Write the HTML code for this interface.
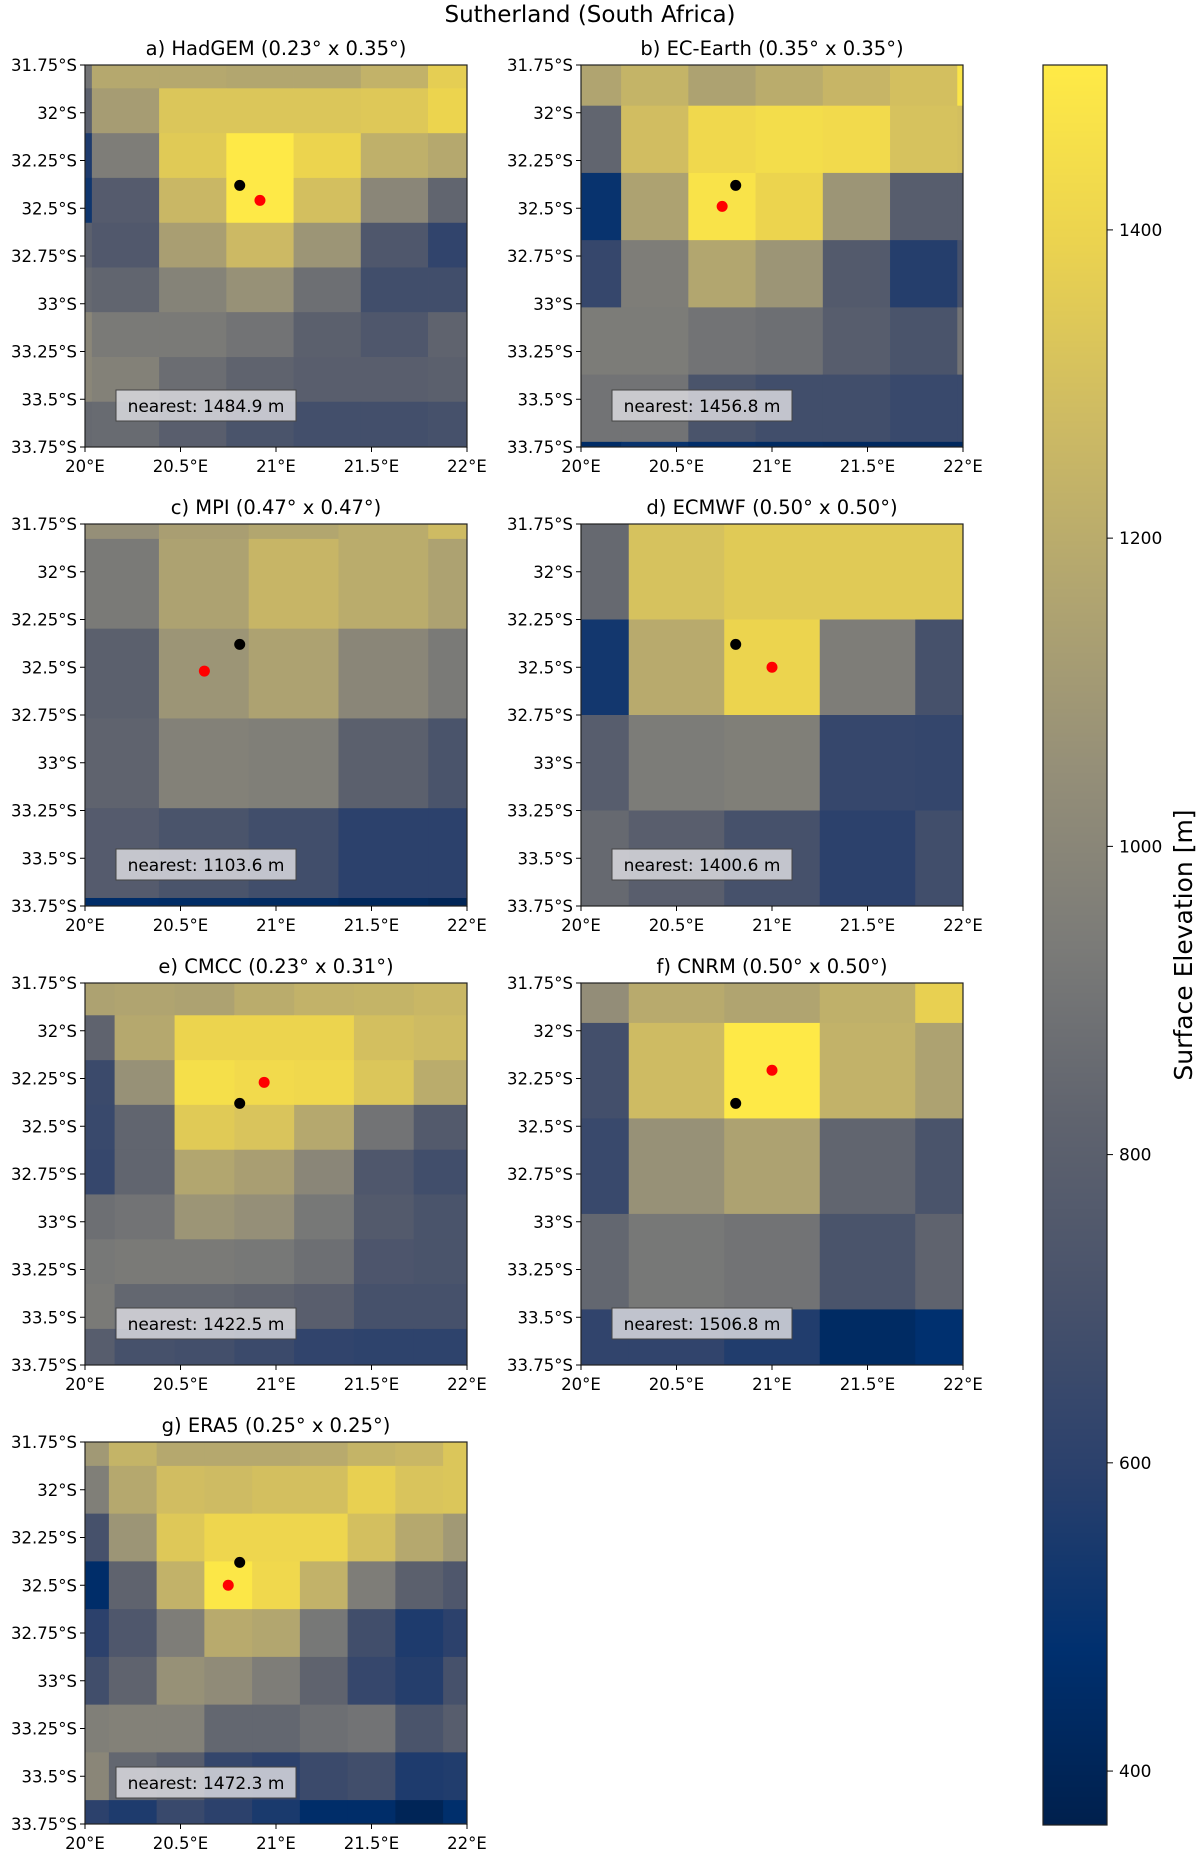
<!DOCTYPE html>
<html><head><meta charset="utf-8"><style>
html,body{margin:0;padding:0;background:#fff;}
svg text{font-family:"DejaVu Sans","Liberation Sans",sans-serif;fill:#000;}
</style></head><body>
<svg id="fig" width="1200" height="1856" viewBox="0 0 1200 1856" xmlns="http://www.w3.org/2000/svg">
<text x="590" y="22" font-size="23" text-anchor="middle">Sutherland (South Africa)</text>
</svg>
<script>
// ---- colour scale ----
const vmin = 365, vmax = 1507;
const cbTicks = [400, 600, 800, 1000, 1200, 1400];
const cmapStops = ["#00204d","#00306f","#2a406c","#48526b","#5f636e","#7b7b78","#958f78","#b1a570","#cebb63","#ebd34f","#ffea46"];

// ---- panel data (lon edges, lat edges, values row by row north->south) ----
const titlesList = ["a) HadGEM (0.23° x 0.35°)","b) EC-Earth (0.35° x 0.35°)","c) MPI (0.47° x 0.47°)","d) ECMWF (0.50° x 0.50°)","e) CMCC (0.23° x 0.31°)","f) CNRM (0.50° x 0.50°)","g) ERA5 (0.25° x 0.25°)"];
const nearestList = ["nearest: 1484.9 m","nearest: 1456.8 m","nearest: 1103.6 m","nearest: 1400.6 m","nearest: 1422.5 m","nearest: 1506.8 m","nearest: 1472.3 m"];
const siteLon = 20.81, siteLat = -32.38;
const redLon = [20.916, 20.739, 20.625, 21.0, 20.938, 21.0, 20.75];
const redLat = [-32.459, -32.49, -32.52, -32.5, -32.27, -32.207, -32.5];

const lonA = [19.684,20.036,20.388,20.740,21.092,21.444,21.796,22.148];
const latA = [-31.638,-31.872,-32.107,-32.341,-32.576,-32.810,-33.044,-33.279,-33.513,-33.748];
const valA = [
[900,1180,1180,1170,1170,1230,1370],
[800,1120,1330,1330,1330,1340,1400],
[560,950,1350,1500,1400,1220,1180],
[520,770,1260,1500,1300,1000,830],
[800,750,1130,1270,1080,740,620],
[850,830,980,1060,880,680,680],
[1000,930,930,900,800,740,820],
[1000,970,870,820,790,790,800],
[850,860,790,720,690,690,700]];

const lonB = [19.858,20.21,20.562,20.914,21.266,21.618,21.97,22.322];
const latB = [-31.611,-31.963,-32.315,-32.667,-33.019,-33.371,-33.723,-34.075];
const valB = [
[1160,1240,1150,1200,1250,1300,1480],
[830,1290,1420,1440,1430,1310,1300],
[500,1150,1470,1400,1080,780,780],
[640,950,1170,1080,760,580,700],
[940,940,900,880,780,720,900],
[900,900,720,680,680,650,650],
[450,500,460,440,430,420,420]];

const lonC = [19.917,20.387,20.857,21.327,21.797,22.267];
const latC = [-31.358,-31.828,-32.298,-32.768,-33.238,-33.708,-34.178];
const valC = [
[1050,1130,1170,1200,1280],
[930,1150,1250,1200,1150],
[800,1080,1150,1000,930],
[820,970,960,800,720],
[770,720,680,600,600],
[460,450,440,420,400]];

const lonD = [19.75,20.25,20.75,21.25,21.75,22.25];
const latD = [-31.75,-32.25,-32.75,-33.25,-33.75];
const valD = [
[850,1310,1350,1350,1350],
[530,1190,1400,950,700],
[780,940,960,640,630],
[850,790,700,600,680]];

const lonE = [19.842,20.155,20.469,20.782,21.095,21.408,21.721,22.034];
const latE = [-31.685,-31.919,-32.154,-32.388,-32.623,-32.857,-33.092,-33.326,-33.561,-33.795];
const valE = [
[1150,1160,1150,1200,1230,1240,1260],
[820,1180,1400,1400,1400,1300,1280],
[660,1060,1450,1430,1420,1330,1200],
[650,830,1350,1320,1180,900,760],
[640,830,1170,1130,1000,740,680],
[880,900,1080,1050,920,760,720],
[920,930,930,920,880,730,720],
[930,840,840,820,790,700,700],
[780,700,690,660,620,610,610]];

const lonF = [19.75,20.25,20.75,21.25,21.75,22.25];
const latF = [-31.459,-31.959,-32.459,-32.959,-33.459,-33.959];
const valF = [
[1040,1190,1160,1220,1380],
[690,1280,1500,1230,1150],
[650,1060,1150,830,720],
[840,920,900,720,820],
[620,620,570,440,480]];

const lonG = [19.875,20.125,20.375,20.625,20.875,21.125,21.375,21.625,21.875,22.125];
const latG = [-31.625,-31.875,-32.125,-32.375,-32.625,-32.875,-33.125,-33.375,-33.625,-33.875];
const valG = [
[1100,1240,1180,1180,1180,1190,1240,1260,1330],
[960,1180,1290,1280,1300,1300,1380,1320,1330],
[700,1080,1340,1410,1410,1410,1300,1180,1100],
[460,820,1230,1490,1420,1230,950,800,740],
[600,740,950,1190,1170,920,680,560,600],
[680,820,1060,1030,950,820,640,580,700],
[960,970,970,840,840,880,900,720,780],
[1000,840,780,630,600,660,680,560,570],
[600,560,650,600,550,460,460,400,470]];

const latTicks = [-31.75,-32,-32.25,-32.5,-32.75,-33,-33.25,-33.5,-33.75];
const latLabels = ["31.75°S","32°S","32.25°S","32.5°S","32.75°S","33°S","33.25°S","33.5°S","33.75°S"];
const lonTicks = [20,20.5,21,21.5,22];
const lonLabels = ["20°E","20.5°E","21°E","21.5°E","22°E"];

const panelData = [[lonA,latA,valA],[lonB,latB,valB],[lonC,latC,valC],[lonD,latD,valD],[lonE,latE,valE],[lonF,latF,valF],[lonG,latG,valG]];
const panelIds = ["hadgem","ec-earth","mpi","ecmwf","cmcc","cnrm","era5"];

// ---- helpers ----
const NS = "http://www.w3.org/2000/svg";
const svg = document.getElementById("fig");
function hex2rgb(h){return [parseInt(h.slice(1,3),16),parseInt(h.slice(3,5),16),parseInt(h.slice(5,7),16)];}
function cmap(v){
  let t=(v-vmin)/(vmax-vmin); t=Math.max(0,Math.min(1,t));
  const n=cmapStops.length-1, f=t*n, i=Math.min(n-1,Math.floor(f)), r=f-i;
  const a=hex2rgb(cmapStops[i]), b=hex2rgb(cmapStops[i+1]);
  return "rgb("+a.map((c,k)=>Math.round(c+(b[k]-c)*r)).join(",")+")";
}
function mk(tag,attrs,parent){const e=document.createElementNS(NS,tag);for(const k in attrs)e.setAttribute(k,attrs[k]);(parent||svg).appendChild(e);return e;}

const PW=382, PH=382;
const colX=[85,581];
const rowY=[65,524,983,1442];
const defs=mk("defs",{});

panelData.forEach((pd,p)=>{
  const [lons,lats,vals]=pd;
  const x0=colX[p%2], y0=rowY[Math.floor(p/2)];
  const sx=lon=>x0+(lon-20)/2*PW;
  const sy=lat=>y0+(-31.75-lat)/2*PH;
  const g=mk("g",{});
  
  
  const cp=mk("clipPath",{id:"clip"+p},defs);
  mk("rect",{x:x0,y:y0,width:PW,height:PH},cp);
  const cells=mk("g",{"clip-path":"url(#clip"+p+")"},g);
  
  
  vals.forEach((row,r)=>row.forEach((v,c)=>{
    const xa=sx(lons[c]), xb=sx(lons[c+1]), ya=sy(lats[r]), yb=sy(lats[r+1]);
    const rc=mk("rect",{x:xa,y:ya,width:xb-xa+0.4,height:yb-ya+0.4,fill:cmap(v)},cells);
    
    
  }));
  const bd=mk("circle",{cx:sx(siteLon),cy:sy(siteLat),r:5.5,fill:"#000"},g);
  
  
  const rd=mk("circle",{cx:sx(redLon[p]),cy:sy(redLat[p]),r:5.5,fill:"#ff0000"},g);
  
  
  const lb=mk("rect",{x:x0+31,y:y0+325,width:180,height:31,fill:"#d9d9de","fill-opacity":"0.85",stroke:"#444","stroke-width":1},g);
  
  
  const lt=mk("text",{x:x0+121,y:y0+347,"font-size":17,"text-anchor":"middle"},g);
  lt.textContent=nearestList[p];
  
  
  mk("rect",{x:x0,y:y0,width:PW,height:PH,fill:"none",stroke:"#222","stroke-width":1.2},g);
  latTicks.forEach((lt2,i)=>{
    const y=sy(lt2);
    mk("line",{x1:x0-5,x2:x0,y1:y,y2:y,stroke:"#000","stroke-width":1},g);
    const t=mk("text",{x:x0-8,y:y+6,"font-size":16.5,"text-anchor":"end"},g);
    t.textContent=latLabels[i];
    
    
  });
  lonTicks.forEach((ln,i)=>{
    const x=sx(ln);
    mk("line",{x1:x,x2:x,y1:y0+PH,y2:y0+PH+5,stroke:"#000","stroke-width":1},g);
    const t=mk("text",{x:x,y:y0+PH+25,"font-size":16.5,"text-anchor":"middle"},g);
    t.textContent=lonLabels[i];
    
    
  });
  const tt=mk("text",{x:x0+PW/2,y:y0-10,"font-size":19.5,"text-anchor":"middle"},g);
  tt.textContent=titlesList[p];
  
  
});

// ---- colorbar ----
const cbX=1043, cbW=64, cbTop=65, cbBot=1825;
const cbG=mk("g",{});


const cy=v=>cbBot-(v-vmin)/(vmax-vmin)*(cbBot-cbTop);
for(let y=cbTop;y<cbBot;y+=2){
  const v=vmin+(cbBot-y-1)/(cbBot-cbTop)*(vmax-vmin);
  mk("rect",{x:cbX,y:y,width:cbW,height:2.4,fill:cmap(v)},cbG);
}
mk("rect",{x:cbX,y:cbTop,width:cbW,height:cbBot-cbTop,fill:"none",stroke:"#222","stroke-width":1.2},cbG);
cbTicks.forEach(v=>{
  const y=cy(v);
  mk("line",{x1:cbX+cbW,x2:cbX+cbW+6,y1:y,y2:y,stroke:"#000","stroke-width":1},cbG);
  const t=mk("text",{x:cbX+cbW+12,y:y+6,"font-size":17},cbG);
  t.textContent=v;
  
  
});
const cl=mk("text",{x:0,y:0,"font-size":25,"text-anchor":"middle",transform:"translate(1192,945) rotate(-90)"},cbG);
cl.textContent="Surface Elevation [m]";


</script>
</body></html>
